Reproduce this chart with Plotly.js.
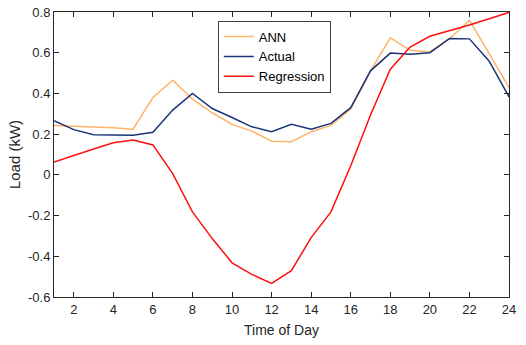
<!DOCTYPE html>
<html>
<head>
<meta charset="utf-8">
<script src="https://cdn.plot.ly/plotly-3.0.1.min.js"></script>
<style>html,body{margin:0;padding:0;background:#fff;}#chart{width:526px;height:345px;}</style>
</head>
<body>
<div id="chart"></div>
<script>
const hours = [1,2,3,4,5,6,7,8,9,10,11,12,13,14,15,16,17,18,19,20,21,22,23,24];
const ann = [0.243,0.240,0.235,0.232,0.224,0.380,0.465,0.372,0.305,0.248,0.215,0.165,0.163,0.212,0.243,0.323,0.511,0.673,0.612,0.604,0.670,0.759,0.596,0.429];
const actual = [0.266,0.222,0.197,0.195,0.194,0.209,0.318,0.400,0.326,0.282,0.236,0.212,0.248,0.224,0.253,0.330,0.511,0.598,0.593,0.600,0.670,0.668,0.558,0.383];
const regression = [0.063,0.096,0.127,0.158,0.171,0.147,0.006,-0.182,-0.313,-0.432,-0.489,-0.533,-0.471,-0.308,-0.182,0.045,0.294,0.519,0.628,0.681,0.707,0.736,0.767,0.798];
const xTickVals = [2,4,6,8,10,12,14,16,18,20,22,24];
const yTickVals = [-0.6,-0.4,-0.2,0,0.2,0.4,0.6,0.8];
const yTickText = ["-0.6","-0.4","-0.2","0","0.2","0.4","0.6","0.8"];

const font = {family: "Liberation Sans, Arial, sans-serif", size: 13, color: "#262626"};
const traces = [
  {x: hours, y: ann, name: "ANN", mode: "lines", line: {color: "#FDB46A", width: 1.5}},
  {x: hours, y: actual, name: "Actual", mode: "lines", line: {color: "#1A3577", width: 1.5}},
  {x: hours, y: regression, name: "Regression", mode: "lines", line: {color: "#FF1010", width: 1.5}}
];
const axisCommon = {
  showgrid: false, zeroline: false, showline: true, linecolor: "#262626", linewidth: 1,
  mirror: "allticks", ticks: "inside", ticklen: 5, tickcolor: "#262626", tickfont: font
};
const layout = {
  width: 526, height: 345,
  margin: {l: 54, r: 17, t: 12, b: 48},
  paper_bgcolor: "#fff", plot_bgcolor: "#fff",
  font: font,
  xaxis: Object.assign({}, axisCommon, {
    range: [1, 24], tickvals: xTickVals,
    title: {text: "Time of Day", font: {family: font.family, size: 14, color: "#262626"}, standoff: 9}
  }),
  yaxis: Object.assign({}, axisCommon, {
    range: [-0.6, 0.8], tickvals: yTickVals, ticktext: yTickText,
    title: {text: "Load (kW)", font: {family: font.family, size: 15, color: "#262626"}, standoff: 3}
  }),
  showlegend: true,
  legend: {
    x: 0.36, y: 0.97, xanchor: "left", yanchor: "top",
    bgcolor: "#fff", bordercolor: "#404040", borderwidth: 1,
    font: {family: font.family, size: 13, color: "#000"},
    itemwidth: 30, tracegroupgap: 0
  }
};
Plotly.newPlot("chart", traces, layout, {displayModeBar: false, staticPlot: true});
</script>
</body>
</html>
